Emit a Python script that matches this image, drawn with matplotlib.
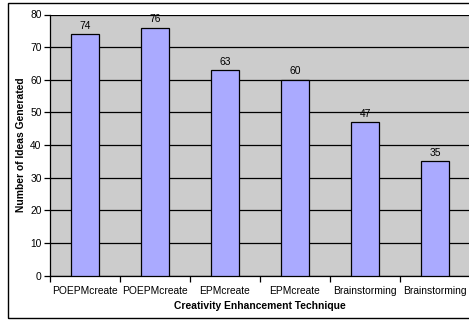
import matplotlib
matplotlib.use("Agg")
import matplotlib.pyplot as plt
from matplotlib.patches import Rectangle
import numpy as np

categories = ["POEPMcreate", "POEPMcreate", "EPMcreate", "EPMcreate",
              "Brainstorming", "Brainstorming"]
ideas = [74, 76, 63, 60, 47, 35]
y_ticks = [0, 10, 20, 30, 40, 50, 60, 70, 80]

plt.rcParams["font.family"] = ["Liberation Sans", "DejaVu Sans"]

W, H = 469, 321
fig = plt.figure(figsize=(W / 100, H / 100), dpi=100)
fig.patch.set_facecolor("white")

# outer chart frame
fig.add_artist(Rectangle((8 / W, 1 - 318 / H), 1.2, (318 - 3) / H,
                         transform=fig.transFigure, fill=False,
                         edgecolor="black", linewidth=1.0))

left, right, top, bottom = 50, 470, 14.5, 275.5
ax = fig.add_axes([left / W, 1 - bottom / H, (right - left) / W, (bottom - top) / H])
ax.set_facecolor("#cccccc")

fs = 7.4
x = np.arange(len(categories))
ax.bar(x, ideas, width=0.4, color="#aaaaff", edgecolor="black", linewidth=0.9, zorder=3)
for xi, v in zip(x, ideas):
    ax.text(xi, v + 1.0, str(v), ha="center", va="bottom", fontsize=fs, zorder=4)

ax.set_xlim(-0.5, len(categories) - 0.5)
ax.set_ylim(0, 80)
ax.set_yticks(y_ticks)
ax.set_yticklabels([str(t) for t in y_ticks], fontsize=fs)
ax.yaxis.grid(True, color="black", linewidth=0.9, zorder=1)
ax.set_axisbelow(True)

# category labels centred under bars, ticks at category boundaries
ax.set_xticks(x)
ax.set_xticklabels(categories, fontsize=fs)
ax.tick_params(axis="x", length=0, pad=7.5)
ax.set_xticks(np.arange(-0.5, len(categories), 1.0), minor=True)
ax.tick_params(axis="x", which="minor", length=4, width=0.9, direction="out")
ax.tick_params(axis="y", length=4, width=0.9, direction="out", pad=2)

for s in ["top", "right"]:
    ax.spines[s].set_visible(False)
ax.spines["left"].set_linewidth(0.9)
ax.spines["bottom"].set_linewidth(0.9)

ax.set_xlabel("Creativity Enhancement Technique", fontsize=fs, fontweight="bold", labelpad=4)
ax.set_ylabel("Number of Ideas Generated", fontsize=fs, fontweight="bold", labelpad=3)

fig.savefig("out.png", dpi=100)
